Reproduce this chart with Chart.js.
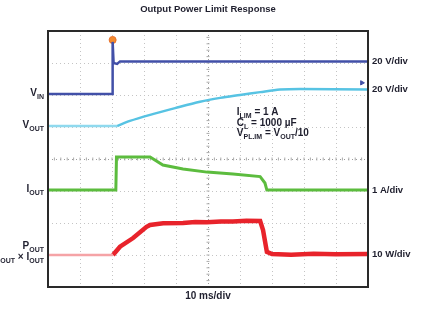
<!DOCTYPE html>
<html>
<head>
<meta charset="utf-8">
<script src="https://cdn.jsdelivr.net/npm/chart.js@4"></script>
<style>
  body { margin: 0; background: #fff; }
  canvas { display: block; }
</style>
</head>
<body>
<canvas id="scope" width="423" height="310"></canvas>
<script>
// Traces in screen divisions (x: 0..10 div of 10 ms, y: 0..8 div)
const vinX = [0, 2.02, 2.02, 2.05, 2.16, 2.25, 10];
const vinY = [6.03, 6.03, 7.66, 7.0, 6.97, 7.05, 7.05];

const voutPreX = [0, 2.16];
const voutPreY = [5.03, 5.03];
const voutX = [2.16, 2.56, 3.19, 3.97, 4.75, 5.38, 6.0, 6.63, 7.25, 7.88, 10];
const voutY = [5.03, 5.19, 5.38, 5.59, 5.79, 5.91, 6.0, 6.09, 6.17, 6.19, 6.17];

const ioutX = [0, 2.12, 2.14, 3.19, 3.59, 4.22, 4.97, 5.78, 6.63, 6.78, 6.84, 10];
const ioutY = [3.03, 3.03, 4.06, 4.06, 3.81, 3.69, 3.59, 3.53, 3.45, 3.25, 3.03, 3.03];

const poutPreX = [0, 2.03];
const poutPreY = [1.0, 1.0];
const poutX = [2.03, 2.25, 2.66, 3.08, 3.19, 3.6, 4.22, 4.6, 4.97, 5.4, 5.78, 6.2, 6.63, 6.72, 6.84, 7.0, 7.6, 8.3, 9.0, 10];
const poutY = [1.0, 1.26, 1.53, 1.88, 1.94, 1.99, 2.0, 2.03, 2.02, 2.05, 2.05, 2.07, 2.06, 1.78, 1.1, 1.03, 1.01, 1.04, 1.02, 1.03];

const trigX = [2.02];
const trigY = [7.72];
const levelX = [9.81];
const levelY = [6.38];

const channelLabels = ["20 V/div", "20 V/div", "1 A/div", "10 W/div"];
const channelLevels = [7.05, 6.17, 3.03, 1.03];

const pts = (xs, ys) => xs.map((x, i) => ({ x: x, y: ys[i] }));
const FONT = "Liberation Sans, Arial, sans-serif";

// draw text made of normal / subscript pieces, right aligned at x
function richText(ctx, parts, x, y, align) {
  const size = 10;
  let w = 0;
  parts.forEach(p => {
    ctx.font = "bold " + (p[1] ? 7 : size) + "px " + FONT;
    w += ctx.measureText(p[0]).width;
  });
  let cx = align === "right" ? x - w : x;
  ctx.textAlign = "left";
  ctx.textBaseline = "alphabetic";
  parts.forEach(p => {
    ctx.font = "bold " + (p[1] ? 7 : size) + "px " + FONT;
    ctx.fillText(p[0], cx, p[1] ? y + 2.5 : y);
    cx += ctx.measureText(p[0]).width;
  });
}

const scopePlugin = {
  id: "scope",
  beforeDatasetsDraw(chart) {
    const { ctx, chartArea: a, scales: { x, y } } = chart;
    ctx.save();
    // dotted graticule
    ctx.setLineDash([1, 3]);
    ctx.lineWidth = 1;
    for (let i = 1; i < 10; i++) {
      const px = Math.round(x.getPixelForValue(i)) + 0.5;
      ctx.strokeStyle = i === 5 ? "#9a9a9a" : "#c4c4c4";
      ctx.beginPath(); ctx.moveTo(px, a.top); ctx.lineTo(px, a.bottom); ctx.stroke();
    }
    for (let j = 1; j < 8; j++) {
      const py = Math.round(y.getPixelForValue(j)) + 0.5;
      ctx.strokeStyle = j === 4 ? "#9a9a9a" : "#c4c4c4";
      ctx.beginPath(); ctx.moveTo(a.left, py); ctx.lineTo(a.right, py); ctx.stroke();
    }
    ctx.setLineDash([]);
    // minor ticks on centre lines
    ctx.strokeStyle = "#aaaaaa";
    const cx = x.getPixelForValue(5), cy = y.getPixelForValue(4);
    for (let k = 1; k < 50; k++) {
      const px = x.getPixelForValue(k / 5);
      ctx.beginPath(); ctx.moveTo(px, cy - 1.5); ctx.lineTo(px, cy + 1.5); ctx.stroke();
    }
    for (let k = 1; k < 40; k++) {
      const py = y.getPixelForValue(k / 5);
      ctx.beginPath(); ctx.moveTo(cx - 1.5, py); ctx.lineTo(cx + 1.5, py); ctx.stroke();
    }
    ctx.restore();
  },
  afterDatasetsDraw(chart) {
    const { ctx, chartArea: a, scales: { x, y } } = chart;
    ctx.save();
    // frame
    ctx.strokeStyle = "#2a2a2a";
    ctx.lineWidth = 2;
    ctx.strokeRect(a.left, a.top, a.right - a.left, a.bottom - a.top);

    ctx.fillStyle = "#1f1f2e";
    // title
    ctx.font = "bold 9.5px " + FONT;
    ctx.textAlign = "center";
    ctx.textBaseline = "middle";
    ctx.fillText("Output Power Limit Response", (a.left + a.right) / 2, 9);
    // time base
    ctx.font = "bold 10px " + FONT;
    ctx.fillText("10 ms/div", (a.left + a.right) / 2, 296);

    // right channel scales
    ctx.textAlign = "left";
    channelLabels.forEach((t, i) => {
      ctx.font = "bold 9.5px " + FONT;
      ctx.textBaseline = "middle";
      ctx.fillText(t, a.right + 4, y.getPixelForValue(channelLevels[i]));
    });

    // left channel names
    const lx = a.left - 4;
    richText(ctx, [["V", 0], ["IN", 1]], lx, y.getPixelForValue(6.03) + 2, "right");
    richText(ctx, [["V", 0], ["OUT", 1]], lx, y.getPixelForValue(5.03) + 2, "right");
    richText(ctx, [["I", 0], ["OUT", 1]], lx, y.getPixelForValue(3.03) + 2, "right");
    richText(ctx, [["P", 0], ["OUT", 1]], lx, y.getPixelForValue(1.0) - 6, "right");
    richText(ctx, [["V", 0], ["OUT", 1], [" \u00d7 ", 0], ["I", 0], ["OUT", 1]], lx, y.getPixelForValue(1.0) + 5, "right");

    // test conditions
    const tx = x.getPixelForValue(5.9);
    richText(ctx, [["I", 0], ["LIM", 1], [" = 1 A", 0]], tx, 115, "left");
    richText(ctx, [["C", 0], ["L", 1], [" = 1000 \u00b5F", 0]], tx, 126, "left");
    richText(ctx, [["V", 0], ["PL.IM", 1], [" = V", 0], ["OUT", 1], ["/10", 0]], tx, 136, "left");
    ctx.restore();
  }
};

new Chart(document.getElementById("scope"), {
  type: "line",
  data: {
    datasets: [
      { data: pts(vinX, vinY), borderColor: "#4250a8", borderWidth: 2.5 },
      { data: pts(voutPreX, voutPreY), borderColor: "#8fd9ee", borderWidth: 2.5 },
      { data: pts(voutX, voutY), borderColor: "#57c3e3", borderWidth: 2.5, tension: 0.3 },
      { data: pts(ioutX, ioutY), borderColor: "#5cbc3e", borderWidth: 3 },
      { data: pts(poutPreX, poutPreY), borderColor: "#f5a3a6", borderWidth: 2.5 },
      { data: pts(poutX, poutY), borderColor: "#e8232b", borderWidth: 4.5 },
      { data: pts(trigX, trigY), showLine: false, pointRadius: 3.5, pointBackgroundColor: "#f28a2e", pointBorderColor: "#e8702a" },
      { data: pts(levelX, levelY), showLine: false, pointStyle: "triangle", rotation: 90, pointRadius: 2.5, pointBackgroundColor: "#4250a8", pointBorderColor: "#4250a8" }
    ]
  },
  options: {
    responsive: false,
    animation: false,
    layout: { padding: { left: 48, right: 55, top: 31, bottom: 23 } },
    elements: { point: { radius: 0 }, line: { fill: false } },
    plugins: { legend: { display: false }, tooltip: { enabled: false }, title: { display: false } },
    scales: {
      x: { type: "linear", min: 0, max: 10, display: false },
      y: { type: "linear", min: 0, max: 8, display: false }
    }
  },
  plugins: [scopePlugin]
});
</script>
</body>
</html>
